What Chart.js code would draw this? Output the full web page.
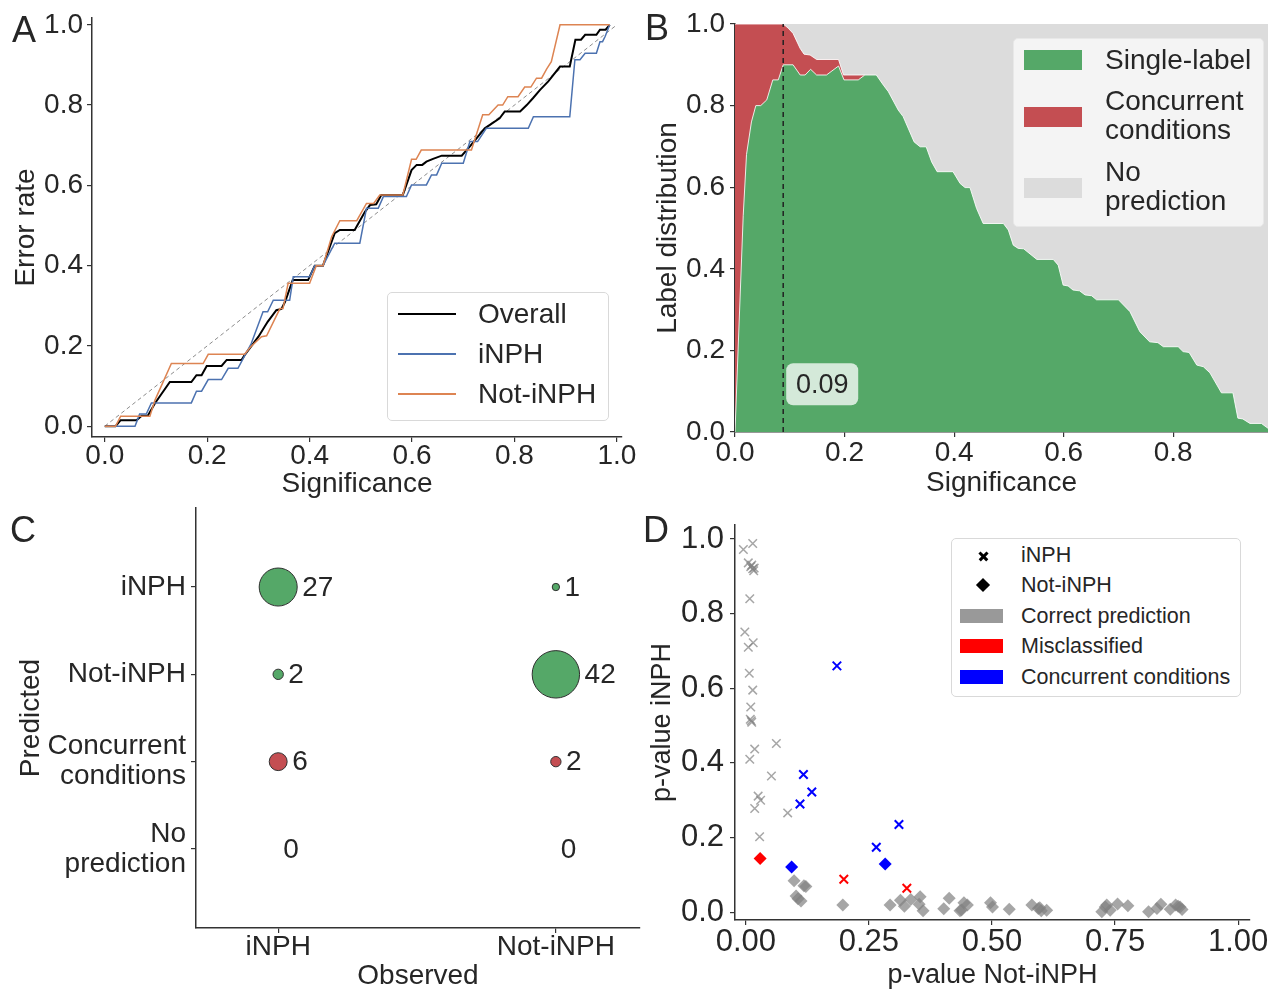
<!DOCTYPE html>
<html>
<head>
<meta charset="utf-8">
<title>Conformal prediction summary</title>
<script src="https://cdn.jsdelivr.net/npm/chart.js@4.4.1/dist/chart.umd.min.js"></script>
<style>
  body { margin: 0; background: #fff; }
  #fig { position: relative; width: 1268px; height: 989px; overflow: hidden; font-family: "Liberation Sans", Arial, sans-serif; color: #262626; }
  canvas { position: absolute; }
  .box { position: absolute; box-sizing: border-box; border: 1px solid #d9d9d9; border-radius: 5px; }
  .t { position: absolute; white-space: nowrap; line-height: 1; transform: translateY(-50%); }
  .sw { position: absolute; }
  .letter { font-size: 36px; }
</style>
</head>
<body>
<div id="fig">
  <canvas id="chartA" width="660" height="501" style="left:0;top:0"></canvas>
  <canvas id="chartB" width="634" height="501" style="left:634px;top:0"></canvas>
  <canvas id="chartC" width="650" height="495" style="left:0;top:500px"></canvas>
  <canvas id="chartD" width="634" height="495" style="left:634px;top:500px"></canvas>

  <div class="t letter" style="left:12px;top:30px">A</div>
  <div class="t letter" style="left:645px;top:28px">B</div>
  <div class="t letter" style="left:10px;top:530px">C</div>
  <div class="t letter" style="left:643px;top:530px">D</div>

  <!-- legend A -->
  <div class="box" style="left:387px;top:292px;width:222px;height:129px;background:rgba(255,255,255,0.8)"></div>
  <div class="sw" style="left:398px;top:313px;width:58px;height:2px;background:#000"></div>
  <div class="sw" style="left:398px;top:353px;width:58px;height:1.5px;background:#4c72b0"></div>
  <div class="sw" style="left:398px;top:393px;width:58px;height:1.5px;background:#dd8452"></div>
  <div class="t" style="left:478px;top:314px;font-size:28px">Overall</div>
  <div class="t" style="left:478px;top:354px;font-size:28px">iNPH</div>
  <div class="t" style="left:478px;top:394px;font-size:28px">Not-iNPH</div>

  <!-- legend B -->
  <div class="box" style="left:1013px;top:38px;width:251px;height:189px;background:rgba(246,246,246,0.9);border-color:#e8e8e8"></div>
  <div class="sw" style="left:1024px;top:50px;width:58px;height:20px;background:#55a868"></div>
  <div class="sw" style="left:1024px;top:107px;width:58px;height:20px;background:#c44e52"></div>
  <div class="sw" style="left:1024px;top:178px;width:58px;height:20px;background:#dcdcdc"></div>
  <div class="t" style="left:1105px;top:60px;font-size:28px">Single-label</div>
  <div class="t" style="left:1105px;top:101px;font-size:28px">Concurrent</div>
  <div class="t" style="left:1105px;top:130px;font-size:28px">conditions</div>
  <div class="t" style="left:1105px;top:172px;font-size:28px">No</div>
  <div class="t" style="left:1105px;top:201px;font-size:28px">prediction</div>

  <!-- legend D -->
  <div class="box" style="left:951px;top:538px;width:290px;height:159px;background:#fff"></div>
  <div class="sw" style="left:977.5px;top:554.7px;width:11px;height:2.6px;background:#000;transform:rotate(45deg)"></div>
  <div class="sw" style="left:977.5px;top:554.7px;width:11px;height:2.6px;background:#000;transform:rotate(-45deg)"></div>
  <div class="sw" style="left:978px;top:580px;width:10px;height:10px;background:#000;transform:rotate(45deg)"></div>
  <div class="sw" style="left:960px;top:609px;width:43px;height:14px;background:#999"></div>
  <div class="sw" style="left:960px;top:639px;width:43px;height:14px;background:#ff0000"></div>
  <div class="sw" style="left:960px;top:670px;width:43px;height:14px;background:#0000ff"></div>
  <div class="t" style="left:1021px;top:556px;font-size:21.5px">iNPH</div>
  <div class="t" style="left:1021px;top:586px;font-size:21.5px">Not-iNPH</div>
  <div class="t" style="left:1021px;top:617px;font-size:21.5px">Correct prediction</div>
  <div class="t" style="left:1021px;top:647px;font-size:21.5px">Misclassified</div>
  <div class="t" style="left:1021px;top:678px;font-size:21.5px">Concurrent conditions</div>
</div>

<script>
// ---------- A: error rate vs significance ----------
const sigOverall = [0, 0.021, 0.031, 0.062, 0.072, 0.084, 0.098, 0.127, 0.169, 0.179, 0.189, 0.199, 0.228, 0.238, 0.267, 0.273, 0.300, 0.318, 0.335, 0.345, 0.352, 0.367, 0.397, 0.410, 0.426, 0.449, 0.459, 0.488, 0.508, 0.518, 0.530, 0.540, 0.582, 0.599, 0.609, 0.620, 0.628, 0.641, 0.658, 0.697, 0.713, 0.742, 0.771, 0.781, 0.811, 0.824, 0.836, 0.850, 0.866, 0.889, 0.908, 0.919, 0.930, 0.938, 0.960, 0.967, 0.978, 0.986];
const errOverall = [0, 0, 0.015, 0.015, 0.026, 0.026, 0.057, 0.110, 0.110, 0.127, 0.127, 0.150, 0.150, 0.165, 0.165, 0.177, 0.223, 0.260, 0.289, 0.292, 0.310, 0.364, 0.364, 0.400, 0.400, 0.481, 0.489, 0.489, 0.534, 0.551, 0.553, 0.576, 0.576, 0.638, 0.651, 0.651, 0.659, 0.666, 0.674, 0.674, 0.697, 0.742, 0.767, 0.784, 0.784, 0.800, 0.817, 0.838, 0.859, 0.896, 0.896, 0.963, 0.963, 0.975, 0.975, 0.988, 0.988, 1.0];

const sigInph = [0, 0.059, 0.068, 0.081, 0.091, 0.169, 0.179, 0.189, 0.202, 0.228, 0.241, 0.260, 0.286, 0.309, 0.318, 0.329, 0.361, 0.368, 0.400, 0.410, 0.426, 0.449, 0.498, 0.511, 0.534, 0.544, 0.589, 0.599, 0.628, 0.638, 0.648, 0.658, 0.700, 0.713, 0.728, 0.745, 0.827, 0.837, 0.908, 0.918, 0.928, 0.938, 0.960, 0.967, 0.972, 0.977, 0.986];
const errInph = [0, 0, 0.030, 0.030, 0.058, 0.058, 0.087, 0.087, 0.116, 0.116, 0.144, 0.144, 0.206, 0.285, 0.285, 0.314, 0.314, 0.372, 0.372, 0.400, 0.400, 0.456, 0.456, 0.543, 0.543, 0.572, 0.572, 0.601, 0.601, 0.626, 0.626, 0.655, 0.655, 0.709, 0.709, 0.742, 0.742, 0.771, 0.771, 0.913, 0.913, 0.929, 0.929, 0.958, 0.958, 0.971, 1.0];

const sigNot = [0, 0.021, 0.031, 0.088, 0.098, 0.130, 0.192, 0.202, 0.273, 0.285, 0.306, 0.316, 0.342, 0.348, 0.358, 0.400, 0.413, 0.426, 0.443, 0.459, 0.492, 0.511, 0.525, 0.537, 0.582, 0.599, 0.608, 0.618, 0.716, 0.738, 0.750, 0.768, 0.777, 0.787, 0.807, 0.820, 0.832, 0.843, 0.853, 0.863, 0.872, 0.889, 0.986];
const errNot = [0, 0, 0.025, 0.025, 0.065, 0.156, 0.156, 0.179, 0.179, 0.198, 0.223, 0.225, 0.293, 0.293, 0.356, 0.356, 0.400, 0.400, 0.472, 0.512, 0.512, 0.555, 0.555, 0.576, 0.576, 0.665, 0.665, 0.688, 0.688, 0.776, 0.776, 0.800, 0.800, 0.821, 0.821, 0.845, 0.845, 0.867, 0.867, 0.890, 0.908, 1.0, 1.0];

const diagonal = [0, 1];
const ticksA = [0, 0.2, 0.4, 0.6, 0.8, 1.0];

// ---------- B: label distribution vs significance ----------
const sigSingle = [0, 0.007, 0.015, 0.021, 0.030, 0.038, 0.047, 0.058, 0.069, 0.079, 0.088, 0.106, 0.119, 0.128, 0.138, 0.149, 0.167, 0.189, 0.199, 0.225, 0.237, 0.258, 0.271, 0.280, 0.298, 0.307, 0.327, 0.338, 0.349, 0.359, 0.369, 0.398, 0.411, 0.420, 0.429, 0.441, 0.453, 0.490, 0.499, 0.508, 0.517, 0.527, 0.551, 0.581, 0.590, 0.599, 0.608, 0.617, 0.629, 0.639, 0.651, 0.660, 0.700, 0.721, 0.739, 0.757, 0.772, 0.782, 0.809, 0.818, 0.829, 0.843, 0.855, 0.867, 0.888, 0.909, 0.918, 0.927, 0.940, 0.961, 0.973];
const shareSingle = [0, 0.25, 0.53, 0.68, 0.76, 0.80, 0.80, 0.814, 0.863, 0.863, 0.90, 0.90, 0.875, 0.875, 0.889, 0.875, 0.875, 0.897, 0.863, 0.863, 0.875, 0.875, 0.85, 0.834, 0.789, 0.773, 0.711, 0.699, 0.699, 0.662, 0.638, 0.638, 0.609, 0.599, 0.599, 0.548, 0.511, 0.511, 0.495, 0.458, 0.45, 0.449, 0.423, 0.423, 0.409, 0.36, 0.358, 0.348, 0.346, 0.336, 0.334, 0.324, 0.324, 0.295, 0.246, 0.221, 0.219, 0.209, 0.209, 0.197, 0.195, 0.164, 0.16, 0.145, 0.096, 0.096, 0.034, 0.032, 0.021, 0.021, 0.009];
// single-label + concurrent conditions (top of the red band)
const sigLabelled = [0, 0.088, 0.097, 0.106, 0.119, 0.126, 0.137, 0.149, 0.189, 0.198, 0.237];
const shareLabelled = [1, 1, 0.99, 0.977, 0.94, 0.926, 0.924, 0.913, 0.913, 0.875, 0.875];
const sigAll = [0, 0.973];
const shareAll = [1, 1];
const threshold = 0.088;
const ticksBx = [0, 0.2, 0.4, 0.6, 0.8];
const ticksBy = [0, 0.2, 0.4, 0.6, 0.8, 1.0];

// ---------- C: confusion bubbles ----------
const observed = ['iNPH', 'Not-iNPH'];
const predicted = ['iNPH', 'Not-iNPH', ['Concurrent', 'conditions'], ['No', 'prediction']];
const countsObsInph = [27, 2, 6, 0];
const countsObsNot = [1, 42, 2, 0];

// ---------- D: p-values ----------
const inphCorrectX = [-0.005, 0.014, 0.005, 0.010, 0.014, 0.017, 0.016, 0.012, 0.008, -0.002, 0.015, 0.005, 0.007, 0.014, 0.010, 0.009, 0.012, 0.011, 0.062, 0.018, 0.008, 0.052, 0.025, 0.030, 0.018, 0.085, 0.028];
const inphCorrectY = [0.972, 0.988, 0.936, 0.926, 0.920, 0.922, 0.915, 0.930, 0.840, 0.751, 0.722, 0.710, 0.640, 0.595, 0.550, 0.517, 0.509, 0.513, 0.452, 0.437, 0.410, 0.365, 0.311, 0.300, 0.278, 0.266, 0.202];
const inphMissX = [0.199, 0.327];
const inphMissY = [0.088, 0.064];
const inphConcX = [0.185, 0.117, 0.134, 0.110, 0.311, 0.265];
const inphConcY = [0.660, 0.369, 0.322, 0.290, 0.235, 0.174];
const notCorrectX = [0.098, 0.118, 0.122, 0.102, 0.112, 0.106, 0.197, 0.293, 0.314, 0.322, 0.335, 0.354, 0.352, 0.360, 0.413, 0.402, 0.435, 0.438, 0.443, 0.450, 0.497, 0.501, 0.535, 0.581, 0.594, 0.597, 0.600, 0.611, 0.723, 0.730, 0.740, 0.733, 0.755, 0.776, 0.818, 0.835, 0.843, 0.862, 0.873, 0.878, 0.882, 0.886];
const notCorrectY = [0.084, 0.071, 0.069, 0.043, 0.030, 0.036, 0.019, 0.019, 0.032, 0.016, 0.034, 0.041, 0.021, 0.004, 0.037, 0.009, 0.004, 0.006, 0.025, 0.019, 0.025, 0.014, 0.008, 0.019, 0.010, 0.012, 0.004, 0.005, 0.001, 0.014, 0.005, 0.019, 0.022, 0.017, 0.001, 0.010, 0.021, 0.008, 0.019, 0.016, 0.014, 0.007];
const notMissX = [0.029];
const notMissY = [0.144];
const notConcX = [0.093, 0.283];
const notConcY = [0.121, 0.129];
const ticksDx = [0, 0.25, 0.5, 0.75, 1.0];
const ticksDy = [0, 0.2, 0.4, 0.6, 0.8, 1.0];

const INK = '#262626';
const SPINE = '#333333';
const GREEN = '#55a868';
const RED = '#c44e52';
const GREY = '#dcdcdc';
const BLUE = '#4c72b0';
const ORANGE = '#dd8452';
const FONT = '"Liberation Sans", Arial, sans-serif';

Chart.defaults.font.family = FONT;
Chart.defaults.color = INK;

function pts(xs, ys) {
  return xs.map((x, i) => ({ x: x, y: ys[i] }));
}

// fix the axis box so the plot area lands where the reference has it
function fixWidth(w) {
  return s => { s.width = w; s.paddingTop = 0; s.paddingBottom = 0; };
}
function fixHeight(h) {
  return s => { s.height = h; s.paddingLeft = 0; s.paddingRight = 0; };
}

function axis(o) {
  return {
    type: 'linear', min: o.min, max: o.max, reverse: !!o.reverse,
    afterBuildTicks: s => { s.ticks = o.ticks.map(v => ({ value: v })); },
    ticks: {
      callback: o.fmt, color: INK, padding: o.pad, autoSkip: false, maxRotation: 0, minRotation: 0,
      font: { size: o.size, lineHeight: o.lh || 1.0 }
    },
    grid: { display: true, drawOnChartArea: false, drawTicks: true, tickLength: 5, color: SPINE, lineWidth: 1.2 },
    border: { display: true, color: SPINE, width: 1.5 },
    title: { display: true, text: o.title, color: INK, font: { size: o.titleSize || 28 }, padding: o.titlePad },
    afterFit: o.fit
  };
}

function baseOptions(padding, x, y) {
  return {
    responsive: false, animation: false, devicePixelRatio: 1, events: [],
    layout: { padding: padding, autoPadding: false },
    plugins: { legend: { display: false }, tooltip: { enabled: false } },
    elements: { point: { radius: 0 }, line: { tension: 0 } },
    scales: { x: x, y: y }
  };
}

// ---------- chart A ----------
new Chart(document.getElementById('chartA'), {
  type: 'line',
  data: {
    datasets: [
      { data: pts(sigNot, errNot), borderColor: ORANGE, borderWidth: 1.5, fill: false, order: 1 },
      { data: pts(sigInph, errInph), borderColor: BLUE, borderWidth: 1.5, fill: false, order: 2 },
      { data: pts(sigOverall, errOverall), borderColor: '#000', borderWidth: 2, fill: false, order: 3 },
      { data: pts(diagonal, diagonal), borderColor: '#8c8c8c', borderWidth: 1, borderDash: [4, 3], fill: false, order: 4 }
    ]
  },
  options: baseOptions({ top: 18, right: 38, left: 0, bottom: 0 },
    axis({ min: -0.025, max: 1.01, ticks: ticksA, fmt: v => v.toFixed(1), size: 28, pad: 0,
      title: 'Significance', titlePad: { top: 0, bottom: 0 }, fit: fixHeight(64) }),
    axis({ min: -0.027, max: 1.017, ticks: ticksA, fmt: v => v.toFixed(1), size: 28, pad: 4,
      title: 'Error rate', titlePad: { top: 9, bottom: 0 }, fit: fixWidth(92) }))
});

// ---------- chart B ----------
const thresholdLabel = {
  id: 'thresholdLabel',
  afterDatasetsDraw(chart) {
    const { ctx, scales: { x, y } } = chart;
    const left = x.getPixelForValue(threshold) + 3;
    const mid = y.getPixelForValue(0.117);
    const w = 72, h = 42, r = 7;
    ctx.save();
    ctx.fillStyle = 'rgba(255,255,255,0.75)';
    ctx.beginPath();
    ctx.roundRect(left, mid - h / 2, w, h, r);
    ctx.fill();
    ctx.fillStyle = INK;
    ctx.font = '27px ' + FONT;
    ctx.textAlign = 'center';
    ctx.textBaseline = 'middle';
    ctx.fillText(threshold.toFixed(2), left + w / 2, mid + 1);
    ctx.restore();
  }
};

new Chart(document.getElementById('chartB'), {
  type: 'line',
  data: {
    datasets: [
      { data: pts([threshold, threshold], [0, 1]), borderColor: '#222', borderWidth: 1.5, borderDash: [5, 4], fill: false, order: 1 },
      { data: pts(sigSingle, shareSingle), backgroundColor: GREEN, borderColor: 'rgba(255,255,255,0.85)', borderWidth: 1, fill: 'origin', order: 2 },
      { data: pts(sigLabelled, shareLabelled), backgroundColor: RED, borderColor: 'rgba(255,255,255,0.85)', borderWidth: 1, fill: 'origin', order: 3 },
      { data: pts(sigAll, shareAll), backgroundColor: GREY, borderWidth: 0, fill: 'origin', order: 4 }
    ]
  },
  options: baseOptions({ top: 24, right: 0, left: 0, bottom: 0 },
    axis({ min: 0, max: 0.973, ticks: ticksBx, fmt: v => v.toFixed(1), size: 28, pad: 2,
      title: 'Significance', titlePad: { top: 0, bottom: 1 }, fit: fixHeight(69) }),
    axis({ min: 0, max: 1, ticks: ticksBy, fmt: v => v.toFixed(1), size: 28, pad: 5,
      title: 'Label distribution', titlePad: { top: 17, bottom: 0 }, fit: fixWidth(101) })),
  plugins: [thresholdLabel]
});

// ---------- chart C ----------
const bubbleScale = 3.66;
const countsByCol = [countsObsInph, countsObsNot];
const singleRows = [0, 1];
const concurrentRows = [2];

function bubbles(rows) {
  const out = [];
  countsByCol.forEach((col, c) => {
    rows.forEach(r => {
      if (col[r] > 0) out.push({ x: c, y: r, r: bubbleScale * Math.sqrt(col[r]) });
    });
  });
  return out;
}

const countLabels = {
  id: 'countLabels',
  afterDatasetsDraw(chart) {
    const { ctx, scales: { x, y } } = chart;
    ctx.save();
    ctx.fillStyle = INK;
    ctx.font = '28px ' + FONT;
    ctx.textAlign = 'left';
    ctx.textBaseline = 'middle';
    countsByCol.forEach((col, c) => {
      col.forEach((n, r) => {
        const rad = bubbleScale * Math.sqrt(n);
        ctx.fillText(String(n), x.getPixelForValue(c) + rad + 5, y.getPixelForValue(r) + 1);
      });
    });
    ctx.restore();
  }
};

new Chart(document.getElementById('chartC'), {
  type: 'bubble',
  data: {
    datasets: [
      { data: bubbles(singleRows), backgroundColor: GREEN, borderColor: '#2f2f2f', borderWidth: 1 },
      { data: bubbles(concurrentRows), backgroundColor: RED, borderColor: '#2f2f2f', borderWidth: 1 }
    ]
  },
  options: baseOptions({ top: 8, right: 10, left: 0, bottom: 0 },
    axis({ min: -0.296, max: 1.303, ticks: [0, 1], fmt: v => observed[v], size: 28, pad: 0,
      title: 'Observed', titlePad: { top: 0, bottom: 2 }, fit: fixHeight(67) }),
    axis({ min: -0.905, max: 3.905, reverse: true, ticks: [0, 1, 2, 3], fmt: v => predicted[v], size: 28, pad: 5, lh: 1.08,
      title: 'Predicted', titlePad: { top: 14, bottom: 0 }, fit: fixWidth(196) })),
  plugins: [countLabels]
});

// ---------- chart D ----------
const GREY_MARK = 'rgba(128,128,128,0.7)';
function crosses(xs, ys, colour, width) {
  return { data: pts(xs, ys), pointStyle: 'crossRot', radius: 6, borderColor: colour, backgroundColor: colour, borderWidth: width };
}
function diamonds(xs, ys, colour) {
  return { data: pts(xs, ys), pointStyle: 'rectRot', radius: 6.5, borderWidth: 0, backgroundColor: colour, borderColor: colour };
}

new Chart(document.getElementById('chartD'), {
  type: 'scatter',
  data: {
    datasets: [
      crosses(inphConcX, inphConcY, '#0000ff', 2),
      crosses(inphMissX, inphMissY, '#ff0000', 2),
      diamonds(notConcX, notConcY, '#0000ff'),
      diamonds(notMissX, notMissY, '#ff0000'),
      crosses(inphCorrectX, inphCorrectY, GREY_MARK, 1.5),
      diamonds(notCorrectX, notCorrectY, GREY_MARK)
    ]
  },
  options: baseOptions({ top: 25, right: 18, left: 0, bottom: 0 },
    axis({ min: -0.022, max: 1.024, ticks: ticksDx, fmt: v => v.toFixed(2), size: 31, pad: 2,
      title: 'p-value Not-iNPH', titleSize: 27, titlePad: { top: 0, bottom: 3 }, fit: fixHeight(75) }),
    axis({ min: -0.021, max: 1.0375, ticks: ticksDy, fmt: v => v.toFixed(1), size: 31, pad: 6,
      title: 'p-value iNPH', titleSize: 27, titlePad: { top: 12, bottom: 0 }, fit: fixWidth(101) }))
});
</script>
</body>
</html>
